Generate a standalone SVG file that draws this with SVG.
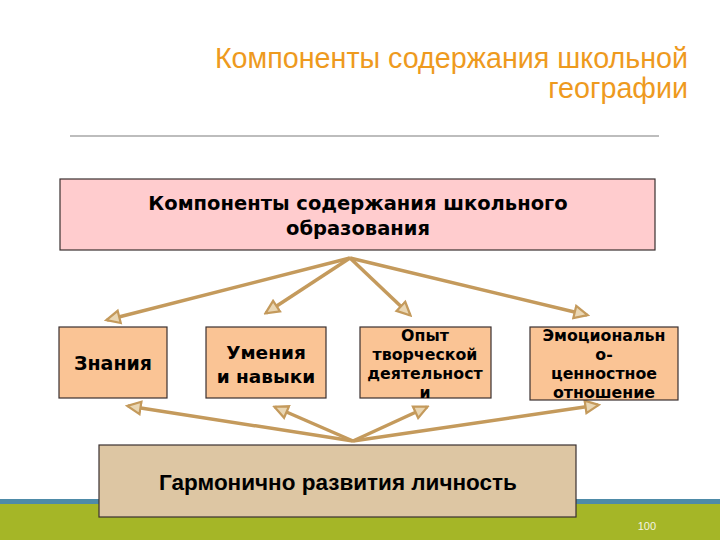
<svg xmlns="http://www.w3.org/2000/svg" width="720" height="540" viewBox="0 0 720 540">
<defs>
<style>
.box{stroke:#3a3030;stroke-width:1.2}
.t{font-family:"DejaVu Sans",Verdana,sans-serif;font-weight:bold;fill:#000;text-anchor:middle}
.c{fill:none;stroke:#C49A5C;stroke-width:3.5;marker-end:url(#ah)}
</style>
<marker id="ah" viewBox="0 0 12 12" refX="10" refY="6" markerWidth="4.8" markerHeight="4.8" orient="auto" markerUnits="strokeWidth">
<path d="M1,1.5 L10.5,6 L1,10.5 Z" fill="#EAD7B4" stroke="#C49A5C" stroke-width="1.6"/>
</marker>
</defs>
<rect width="720" height="540" fill="#fff"/>
<rect x="0" y="499" width="720" height="5" fill="#4E8BA8"/>
<rect x="0" y="504" width="720" height="36" fill="#A5B627"/>
<text x="656" y="530" font-family="Liberation Sans,Arial,sans-serif" font-size="11" fill="#F4F4E0" text-anchor="end">100</text>
<g id="title" font-family="Liberation Sans,Arial,sans-serif" font-size="28.7" fill="#EE9A1E" text-anchor="end">
<text x="688" y="68">Компоненты содержания школьной</text>
<text x="688" y="98">географии</text>
</g>
<line x1="70" y1="136" x2="659" y2="136" stroke="#BDBDBD" stroke-width="2"/>
<g id="connectors">
<path class="c" d="M350,258 L107,320"/>
<path class="c" d="M350,258 L266,313"/>
<path class="c" d="M350,258 L410,315"/>
<path class="c" d="M350,258 L587,315"/>
<path class="c" d="M353,441 L128,406"/>
<path class="c" d="M353,441 L275,407"/>
<path class="c" d="M353,441 L427,407"/>
<path class="c" d="M353,441 L598,405"/>
</g>
<g id="top">
<rect class="box" x="60" y="179" width="595" height="71" fill="#FFCCCE"/>
<text class="t" x="358" y="210" font-size="19.5">Компоненты содержания школьного</text>
<text class="t" x="358" y="235" font-size="19.5">образования</text>
</g>
<g id="znaniya">
<rect class="box" x="59" y="327" width="108" height="71" fill="#FAC495"/>
<text class="t" x="113" y="370" font-size="19">Знания</text>
</g>
<g id="umeniya">
<rect class="box" x="206" y="327" width="120" height="71" fill="#FAC495"/>
<text class="t" x="266" y="359" font-size="18.5">Умения</text>
<text class="t" x="266" y="383" font-size="18.5">и навыки</text>
</g>
<g id="opyt">
<rect class="box" x="360" y="327" width="131" height="71" fill="#FAC495"/>
<text class="t" x="425" y="341" font-size="15.8">Опыт</text>
<text class="t" x="425" y="360" font-size="15.8">творческой</text>
<text class="t" x="425" y="379" font-size="15.8">деятельност</text>
<text class="t" x="425" y="398" font-size="15.8">и</text>
</g>
<g id="emotsionalno">
<rect class="box" x="530" y="327" width="148" height="73" fill="#FAC495"/>
<text class="t" x="604" y="341" font-size="15.8">Эмоциональн</text>
<text class="t" x="604" y="360" font-size="15.8">о-</text>
<text class="t" x="604" y="379" font-size="15.8">ценностное</text>
<text class="t" x="604" y="398" font-size="15.8">отношение</text>
</g>
<g id="garmonichno">
<rect class="box" x="99" y="445" width="477" height="72" fill="#DDC6A3"/>
<text x="338" y="490" font-family="Liberation Sans,Arial,sans-serif" font-weight="bold" font-size="22.5" text-anchor="middle" fill="#000">Гармонично развития личность</text>
</g>
</svg>
